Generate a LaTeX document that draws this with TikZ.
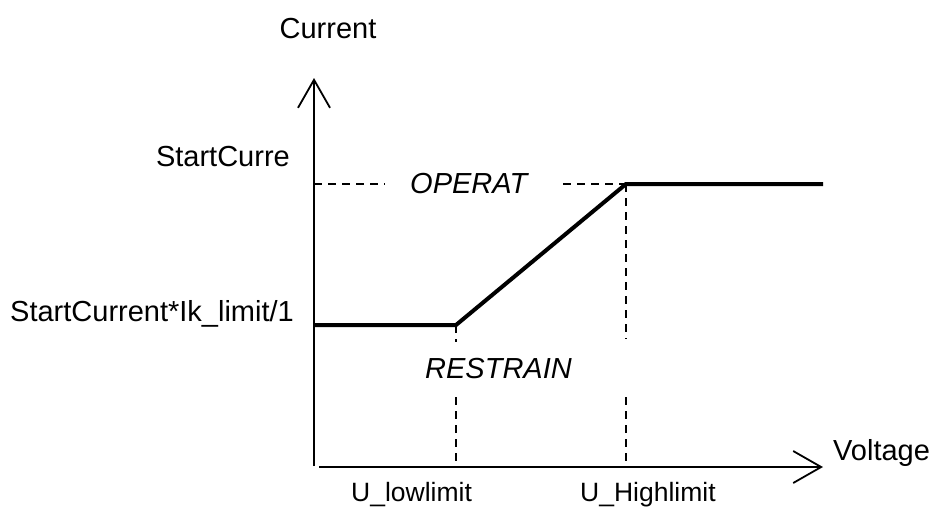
\documentclass[tikz,border=0pt]{standalone}
\usepackage{fontspec}
\setmainfont{Liberation Sans}
\usetikzlibrary{arrows.meta}
\begin{document}
\begin{tikzpicture}[x=1pt,y=-1pt,
  axis/.style={line width=1.8pt, -{Straight Barb[length=28pt,width=32pt,line width=1.8pt]}},
  curve/.style={line width=4pt},
  guide/.style={line width=1.6pt, dash pattern=on 8pt off 6pt},
  lbl/.style={inner sep=0pt, font=\fontsize{29}{34}\selectfont},
  tick/.style={inner sep=0pt, font=\fontsize{26.5}{31}\selectfont}]
\useasboundingbox (0,0) rectangle (933,507);
% key points
\coordinate (ybot) at (314,466);
\coordinate (ytip) at (314,78);
\coordinate (xs) at (319,467);
\coordinate (xtip) at (823,467);
\coordinate (A) at (314,325);
\coordinate (B) at (456,325);
\coordinate (C) at (626,184);
\coordinate (D) at (823,184);
\coordinate (yop) at (314,184);
\coordinate (op1) at (385,184);
\coordinate (op2) at (563,184);
\coordinate (lowA) at (456,342);
\coordinate (lowB) at (456,397);
\coordinate (lowX) at (456,467);
\coordinate (hiA) at (626,339);
\coordinate (hiB) at (626,397);
\coordinate (hiX) at (626,467);
% axes
\draw[axis] (ybot) -- (ytip);
\draw[axis] (xs) -- (xtip);
% guides
\draw[guide] (yop) -- (op1);
\draw[guide] (op2) -- (C);
\draw[guide] (B) -- (lowA);
\draw[guide] (lowB) -- (lowX);
\draw[guide] (C) -- (hiA);
\draw[guide] (hiB) -- (hiX);
% characteristic
\draw[curve, line join=miter] (A) -- (B) -- (C) -- (D);
% labels
\node[lbl, anchor=base] (cur) at (328,38) {Current};
\node[lbl, anchor=base east] (sc) at (290,166) {StartCurre};
\node[lbl, anchor=base west] (scl) at (10,321) {StartCurrent*Ik\_limit/1};
\node[lbl, anchor=base west, font=\fontsize{29}{34}\selectfont\itshape] (oper) at (410,193) {OPERAT};
\node[lbl, anchor=base west, font=\fontsize{29}{34}\selectfont\itshape] (rest) at (425,378) {RESTRAIN};
\node[lbl, anchor=base west] (volt) at (833,460) {Voltage};
\node[tick, anchor=base west] (ulow) at (351,501) {U\_lowlimit};
\node[tick, anchor=base west] (uhigh) at (580,501) {U\_Highlimit};
\end{tikzpicture}
\end{document}
